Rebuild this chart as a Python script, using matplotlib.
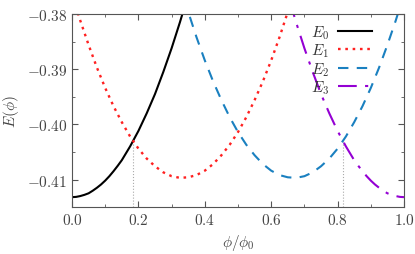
import matplotlib
matplotlib.use("Agg")
import matplotlib.pyplot as plt
from matplotlib.ticker import MultipleLocator, ScalarFormatter

plt.rcParams['font.family'] = 'serif'
plt.rcParams['font.serif'] = ['cmr10']
plt.rcParams['mathtext.fontset'] = 'cm'
plt.rcParams['axes.formatter.use_mathtext'] = True

# flux values and energy levels
phi0 = [0.0, 0.0125, 0.025, 0.0375, 0.05, 0.0625, 0.075, 0.0875, 0.1, 0.1125,
        0.125, 0.1375, 0.15, 0.175, 0.2, 0.225, 0.25, 0.275, 0.3, 0.325, 0.35]
E0 = [-0.4132, -0.41315, -0.4130, -0.41278, -0.4125, -0.41203, -0.4115,
      -0.4109, -0.4102, -0.4094, -0.4085, -0.40753, -0.4065, -0.4040,
      -0.4012, -0.3980, -0.3945, -0.3905, -0.3862, -0.3815, -0.3765]

phi1 = [0.0, 0.025, 0.05, 0.075, 0.1, 0.125, 0.15, 0.175, 0.2, 0.225, 0.25,
        0.275, 0.3, 0.325, 0.35, 0.375, 0.4, 0.425, 0.45, 0.475, 0.5, 0.525,
        0.55, 0.575, 0.6, 0.625, 0.65, 0.675]
E1 = [-0.3764, -0.3812, -0.3856, -0.3897, -0.3934, -0.3967, -0.3996, -0.4022,
      -0.4044, -0.4062, -0.4076, -0.4087, -0.4094, -0.4097, -0.4096, -0.4092,
      -0.4084, -0.4072, -0.4056, -0.4037, -0.4014, -0.3987, -0.3956, -0.3922,
      -0.3884, -0.3842, -0.3796, -0.3747]

phi2 = [0.325, 0.35, 0.375, 0.4, 0.425, 0.45, 0.475, 0.5, 0.525, 0.55, 0.575,
        0.6, 0.625, 0.65, 0.675, 0.7, 0.725, 0.75, 0.775, 0.8, 0.825, 0.85,
        0.875, 0.9, 0.925, 0.95, 0.975, 1.0]
E2 = [-0.3747, -0.3796, -0.3842, -0.3884, -0.3922, -0.3956, -0.3987, -0.4014,
      -0.4037, -0.4056, -0.4072, -0.4084, -0.4092, -0.4096, -0.4097, -0.4094,
      -0.4087, -0.4076, -0.4062, -0.4044, -0.4022, -0.3996, -0.3967, -0.3934,
      -0.3897, -0.3856, -0.3812, -0.3764]

phi3 = [0.65, 0.675, 0.7, 0.725, 0.75, 0.775, 0.8, 0.825, 0.85, 0.8625, 0.875,
        0.8875, 0.9, 0.9125, 0.925, 0.9375, 0.95, 0.9625, 0.975, 0.9875, 1.0]
E3 = [-0.3765, -0.3815, -0.3862, -0.3905, -0.3945, -0.3980, -0.4012, -0.4040,
      -0.4065, -0.40753, -0.4085, -0.4094, -0.4102, -0.4109, -0.4115,
      -0.41203, -0.4125, -0.41278, -0.4130, -0.41315, -0.4132]

# level crossings marked with dotted lines
cross_phi = [0.184, 0.816]
cross_E = [-0.4030, -0.4030]

fig = plt.figure(figsize=(4.15, 2.55), dpi=100)
ax = fig.add_axes([0.1735, 0.184, 0.8, 0.757])

for xc, yc in zip(cross_phi, cross_E):
    ax.plot([xc, xc], [-0.415, yc], color='#aaaaaa', lw=0.8, ls=':')

ax.plot(phi0, E0, color='black', lw=1.5, label=r'$E_0$')
ax.plot(phi1, E1, color='#ff2020', lw=1.7, ls=(0, (1.1, 2.0)), label=r'$E_1$')
ax.plot(phi2, E2, color='#1a80c0', lw=1.5, ls=(0, (5, 4)), label=r'$E_2$')
ax.plot(phi3, E3, color='#9400d3', lw=1.5, ls=(0, (9, 4, 1.5, 4)), label=r'$E_3$')

ax.set_xlim(0, 1)
ax.set_ylim(-0.415, -0.38)
ax.xaxis.set_major_locator(MultipleLocator(0.2))
ax.xaxis.set_minor_locator(MultipleLocator(0.1))
ax.yaxis.set_major_locator(MultipleLocator(0.01))
ax.yaxis.set_minor_locator(MultipleLocator(0.005))
fmt = ScalarFormatter(useMathText=True)
fmt.set_useOffset(False)
ax.yaxis.set_major_formatter(fmt)
ax.xaxis.set_major_formatter(ScalarFormatter(useMathText=True))

ax.tick_params(which='both', direction='in', top=True, right=True,
               colors='#555555', labelcolor='#444444', labelsize=11)
ax.tick_params(which='major', length=4)
ax.tick_params(which='minor', length=2)
for s in ax.spines.values():
    s.set_color('#555555')

ax.set_xlabel(r'$\phi/\phi_0$', fontsize=11, color='#444444')
ax.set_ylabel(r'$E(\phi)$', fontsize=11, color='#444444')

ax.legend(loc='upper right', bbox_to_anchor=(0.93, 1.0), frameon=False,
          markerfirst=False, fontsize=11, handlelength=2.2, labelspacing=0.05,
          borderaxespad=0.2, handletextpad=0.6, labelcolor='#333333')

fig.savefig('out.png', dpi=100)
